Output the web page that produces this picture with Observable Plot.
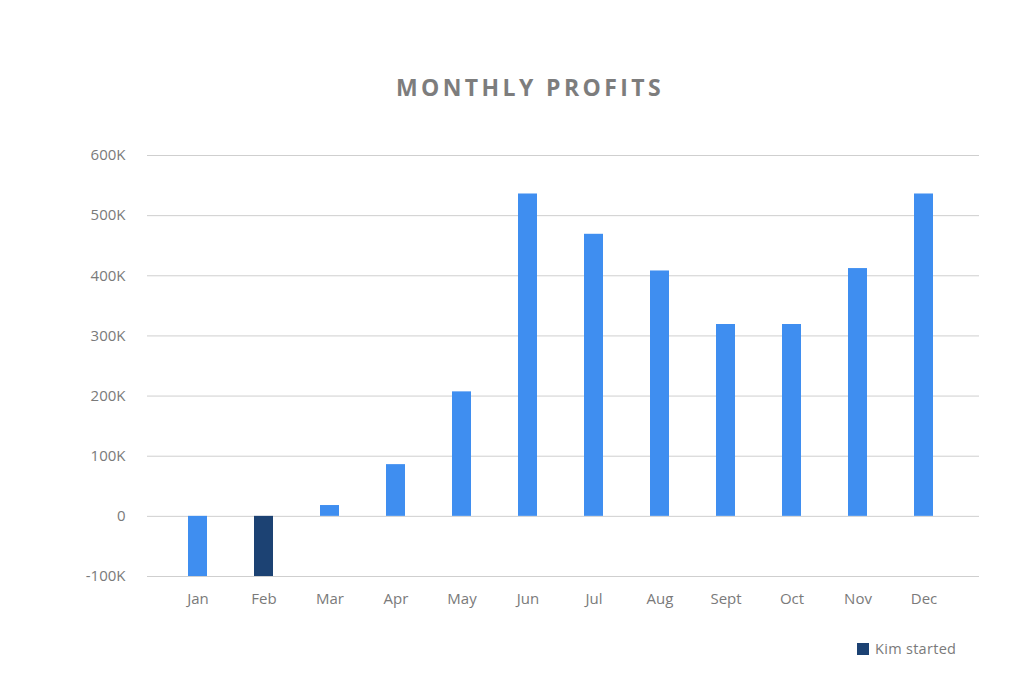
<!DOCTYPE html>
<html>
<head>
<meta charset="utf-8">
<script src="https://cdn.jsdelivr.net/npm/d3@7"></script>
<script src="https://cdn.jsdelivr.net/npm/@observablehq/plot@0.6"></script>
<style>
  html, body { margin: 0; padding: 0; background: #ffffff; }
  body { width: 1030px; height: 684px; position: relative; overflow: hidden; font-family: "Open Sans", Lato, sans-serif; }
  #title { position: absolute; left: 0; top: 71px; width: 1060px; text-align: center; font-family: "Open Sans", Lato, sans-serif; font-weight: 700; font-size: 23px; letter-spacing: 3.4px; color: #7d7d7d; }
  #chart { position: absolute; left: 0; top: 130px; }
  #legend { position: absolute; left: 857px; top: 639px; font-size: 14.5px; color: #7a7a7a; display: flex; align-items: center; gap: 6px; letter-spacing: 0.3px; }
  #legend .sw { width: 12px; height: 12px; background: #1c4273; display: inline-block; }
</style>
</head>
<body>
<div id="title">MONTHLY PROFITS</div>
<div id="chart"></div>
<div id="legend"><span class="sw"></span><span>Kim started</span></div>
<script>
const months = ["Jan", "Feb", "Mar", "Apr", "May", "Jun", "Jul", "Aug", "Sept", "Oct", "Nov", "Dec"];
const profits = [-100000, -100000, 18000, 86000, 207000, 536000, 469000, 408000, 319000, 319000, 412000, 536000];
const yTicks = [-100000, 0, 100000, 200000, 300000, 400000, 500000, 600000];
const highlightMonth = "Feb";
const legendLabel = "Kim started";

const data = months.map((m, i) => ({month: m, profit: profits[i], kim: m === highlightMonth}));

const chart = Plot.plot({
  width: 1030,
  height: 486,
  marginTop: 25,
  marginLeft: 147,
  marginRight: 51,
  marginBottom: 40,
  style: {fontFamily: "'Open Sans', Lato, sans-serif", fontSize: "15px", color: "#7a7a7a", background: "transparent"},
  x: {domain: months, paddingInner: 0.71, paddingOuter: 0.61, insetRight: 4, label: null},
  y: {domain: [-100000, 600000], label: null},
  marks: [
    Plot.gridY(yTicks, {stroke: "#cfcfcf", strokeOpacity: 1, strokeWidth: 1}),
    Plot.barY(data, {x: "month", y1: 0, y2: "profit", fill: d => d.kim ? "#1c4273" : "#3f8ef0"}),
    Plot.axisY(yTicks, {tickSize: 0, tickPadding: 22, tickFormat: d => d === 0 ? "0" : (d / 1000) + "K", fill: "#7a7a7a", fontSize: 15}),
    Plot.axisX({tickSize: 0, tickPadding: 17, fill: "#7a7a7a", fontSize: 15})
  ]
});
document.getElementById("chart").appendChild(chart);
document.querySelector("#legend span:last-child").textContent = legendLabel;
</script>
</body>
</html>
